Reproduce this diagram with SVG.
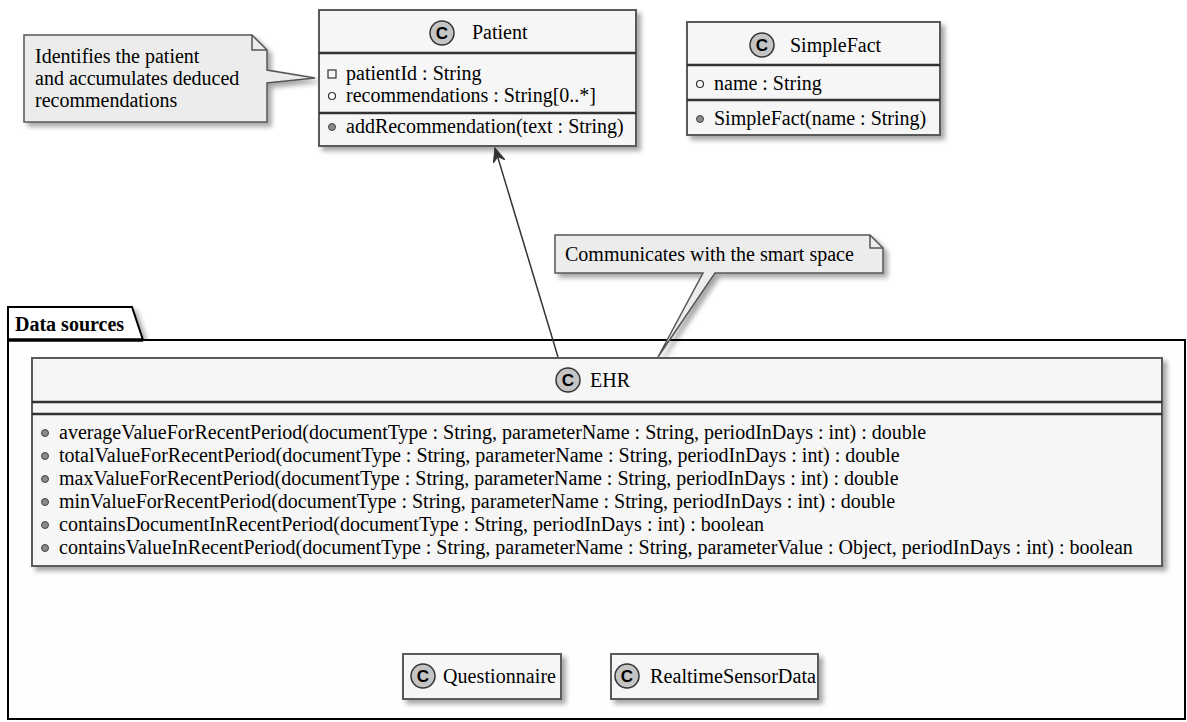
<svg xmlns="http://www.w3.org/2000/svg" width="1187" height="722" viewBox="0 0 1187 722">
<defs>
<filter id="sh" x="-5%" y="-5%" width="115%" height="125%">
<feDropShadow dx="4" dy="4" stdDeviation="2.5" flood-color="#000" flood-opacity="0.35"/>
</filter>
<marker id="arr" markerUnits="userSpaceOnUse" markerWidth="16" markerHeight="14" refX="14" refY="6" orient="auto" viewBox="0 0 16 14">
<path d="M0,0 L14,6 L0,12 L5,6 Z" fill="#333" stroke="#333" stroke-width="1"/>
</marker>
</defs>
<style>
.cls{fill:#F6F6F6;stroke:#5a5a5a;stroke-width:2;filter:url(#sh)}
.sep{stroke:#333;stroke-width:2.5}
.t{font-family:"Liberation Serif","Times New Roman",serif;font-size:20px;fill:#000}
.b{font-weight:bold}
.note{fill:#ECECEC;stroke:#555;stroke-width:1.5;filter:url(#sh)}
.fold{fill:none;stroke:#555;stroke-width:1.5}
.circ{fill:#C4C4C4;stroke:#333;stroke-width:1.5}
.cl{font-family:"Liberation Sans",Arial,sans-serif;font-weight:bold;font-size:17px;text-anchor:middle;fill:#000}
.vo{fill:none;stroke:#333;stroke-width:1.2}
.vf{fill:#8a8a8a;stroke:#444;stroke-width:1}
.conn{fill:none;stroke:#333;stroke-width:1.5}
</style>
<rect width="1187" height="722" fill="#fff"/>

<g id="pkg-data-sources">
<path d="M8,340 L8,307 L132,307 L143,340" fill="#fff" stroke="#000" stroke-width="2" filter="url(#sh)"/>
<rect x="8" y="340" width="1177" height="379" fill="#fefefe" stroke="#000" stroke-width="2"/>
<line x1="8" y1="340" x2="143" y2="340" stroke="#000" stroke-width="3.5"/>
<text class="t b" x="15" y="331">Data sources</text>
</g>

<g id="note-patient">
<path class="note" d="M24,35 L252,35 L267,50 L267,70 L315,78 L267,83 L267,122 L24,122 Z"/>
<path class="fold" d="M252,35 L252,50 L267,50"/>
<text class="t" x="35" y="63">Identifies the patient</text>
<text class="t" x="35" y="85">and accumulates deduced</text>
<text class="t" x="35" y="107">recommendations</text>
</g>

<g id="Patient">
<rect class="cls" x="319" y="10" width="317" height="136"/>
<line class="sep" x1="319" y1="53" x2="636" y2="53"/>
<line class="sep" x1="319" y1="113" x2="636" y2="113"/>
<circle class="circ" cx="442" cy="33" r="12"/>
<text class="cl" x="442" y="39">C</text>
<text class="t" x="472" y="39">Patient</text>
<rect class="vo" x="328" y="70" width="8" height="8"/>
<text class="t" x="346" y="80">patientId : String</text>
<circle class="vo" cx="332" cy="96" r="3.5"/>
<text class="t" x="346" y="102">recommendations : String[0..*]</text>
<circle class="vf" cx="332" cy="127" r="3.5"/>
<text class="t" x="346" y="133">addRecommendation(text : String)</text>
</g>

<g id="SimpleFact">
<rect class="cls" x="687" y="22" width="253" height="113"/>
<line class="sep" x1="687" y1="65" x2="940" y2="65"/>
<line class="sep" x1="687" y1="100" x2="940" y2="100"/>
<circle class="circ" cx="762" cy="45" r="12"/>
<text class="cl" x="762" y="51">C</text>
<text class="t" x="790" y="52">SimpleFact</text>
<circle class="vo" cx="700" cy="84" r="3.5"/>
<text class="t" x="714" y="90">name : String</text>
<circle class="vf" cx="700" cy="119" r="3.5"/>
<text class="t" x="714" y="125">SimpleFact(name : String)</text>
</g>

<g id="note-ehr">
<path class="note" d="M555,235 L870,235 L883,248 L883,273 L715,273 L658,357 L703,273 L555,273 Z"/>
<path class="fold" d="M870,235 L870,248 L883,248"/>
<text class="t" x="565" y="261">Communicates with the smart space</text>
</g>

<g id="EHR">
<rect class="cls" x="32" y="358" width="1130" height="208"/>
<line class="sep" x1="32" y1="402" x2="1162" y2="402"/>
<line class="sep" x1="32" y1="414" x2="1162" y2="414"/>
<circle class="circ" cx="568" cy="380" r="12"/>
<text class="cl" x="568" y="386">C</text>
<text class="t" x="590" y="387">EHR</text>
<circle class="vf" cx="45" cy="433" r="3.5"/>
<text class="t" x="59" y="439">averageValueForRecentPeriod(documentType : String, parameterName : String, periodInDays : int) : double</text>
<circle class="vf" cx="45" cy="456" r="3.5"/>
<text class="t" x="59" y="462">totalValueForRecentPeriod(documentType : String, parameterName : String, periodInDays : int) : double</text>
<circle class="vf" cx="45" cy="479" r="3.5"/>
<text class="t" x="59" y="485">maxValueForRecentPeriod(documentType : String, parameterName : String, periodInDays : int) : double</text>
<circle class="vf" cx="45" cy="502" r="3.5"/>
<text class="t" x="59" y="508">minValueForRecentPeriod(documentType : String, parameterName : String, periodInDays : int) : double</text>
<circle class="vf" cx="45" cy="525" r="3.5"/>
<text class="t" x="59" y="531">containsDocumentInRecentPeriod(documentType : String, periodInDays : int) : boolean</text>
<circle class="vf" cx="45" cy="548" r="3.5"/>
<text class="t" x="59" y="554">containsValueInRecentPeriod(documentType : String, parameterName : String, parameterValue : Object, periodInDays : int) : boolean</text>
</g>

<g id="Questionnaire">
<rect class="cls" x="403" y="654" width="158" height="45"/>
<circle class="circ" cx="423" cy="676" r="12"/>
<text class="cl" x="423" y="682">C</text>
<text class="t" x="443" y="683" textLength="113">Questionnaire</text>
</g>

<g id="RealtimeSensorData">
<rect class="cls" x="611" y="654" width="207" height="45"/>
<circle class="circ" cx="627" cy="676" r="12"/>
<text class="cl" x="627" y="682">C</text>
<text class="t" x="650" y="683" textLength="166" lengthAdjust="spacingAndGlyphs">RealtimeSensorData</text>
</g>

<g id="connectors">
<line class="conn" x1="558" y1="357" x2="495" y2="148" marker-end="url(#arr)"/>
</g>
</svg>
